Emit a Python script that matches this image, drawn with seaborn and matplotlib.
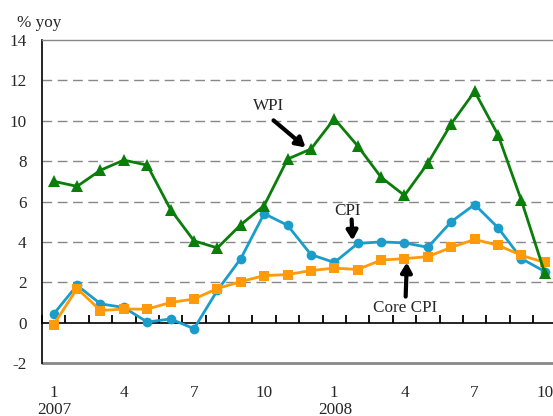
import matplotlib
matplotlib.use("Agg")
import matplotlib.pyplot as plt
import seaborn as sns
import pandas as pd
import numpy as np

months = ["1", "2", "3", "4", "5", "6", "7", "8", "9", "10", "11", "12",
          "1", "2", "3", "4", "5", "6", "7", "8", "9", "10"]
years = ["2007"] * 12 + ["2008"] * 10
wpi = [7.0, 6.75, 7.55, 8.05, 7.8, 5.6, 4.05, 3.7, 4.85, 5.8, 8.1, 8.6,
       10.1, 8.75, 7.2, 6.3, 7.9, 9.85, 11.45, 9.3, 6.05, 2.45]
cpi = [0.43, 1.85, 0.93, 0.75, 0.03, 0.18, -0.3, 1.6, 3.17, 5.4, 4.82, 3.37,
       2.98, 3.92, 4.0, 3.95, 3.73, 5.0, 5.85, 4.7, 3.17, 2.53]
core = [-0.1, 1.69, 0.6, 0.67, 0.67, 1.0, 1.17, 1.69, 2.03, 2.33, 2.38, 2.58,
        2.7, 2.63, 3.1, 3.17, 3.27, 3.73, 4.12, 3.83, 3.33, 2.98]
yticks = [-2, 0, 2, 4, 6, 8, 10, 12, 14]

sns.set_style("white")
plt.rcParams["font.family"] = ["Liberation Serif", "DejaVu Serif"]
plt.rcParams["xtick.bottom"] = True
FS = 12.3

idx = np.arange(len(months))
df = pd.DataFrame({"idx": idx, "WPI": wpi, "CPI": cpi, "Core CPI": core})

fig = plt.figure(figsize=(5.53, 4.16), dpi=100)
ax = fig.add_axes([42 / 553, 53 / 416, 514.5 / 553, 323 / 416])

green = "#0A7D0A"
blue = "#1A9DCB"
orange = "#FF9A0A"

sns.lineplot(data=df, x="idx", y="WPI", ax=ax, color=green, lw=2.0,
             marker="^", markersize=8.5, markeredgewidth=0, zorder=5)
sns.lineplot(data=df, x="idx", y="CPI", ax=ax, color=blue, lw=2.0,
             marker="o", markersize=7, markeredgewidth=0, zorder=3)
sns.lineplot(data=df, x="idx", y="Core CPI", ax=ax, color=orange, lw=2.0,
             marker="s", markersize=7, markeredgewidth=0, zorder=4)

ax.set_xlim(-0.5, len(months) - 0.5)
ax.set_ylim(yticks[0], yticks[-1])
ax.set_xlabel("")
ax.set_ylabel("")

# gridlines
for v in yticks[2:-1]:
    ax.axhline(v, color="#888888", lw=1.0, ls=(0, (7, 4)), zorder=1)

# spines: bottom spine serves as the zero line; gray frame line at the bottom
ax.spines["top"].set_color("#888888")
ax.spines["top"].set_linewidth(1.0)
ax.spines["bottom"].set_position(("data", 0))
ax.spines["bottom"].set_color("black")
ax.spines["bottom"].set_linewidth(1.2)
ax.spines["right"].set_visible(False)
ax.spines["left"].set_color("black")
ax.spines["left"].set_linewidth(1.2)
ax.axhline(yticks[0], color="#888888", lw=2.0, clip_on=False, zorder=2)

ax.set_yticks(yticks)
ax.set_yticklabels([str(v) for v in yticks], fontsize=FS)
ax.tick_params(axis="y", length=0, pad=11)

major_pos = [i for i in idx if (i % 3 == 0)]
ax.set_xticks(major_pos)
ax.set_xticklabels([months[i] for i in major_pos], fontsize=FS)
ax.set_xticks(np.arange(len(months) + 1) - 0.5, minor=True)
ax.tick_params(axis="x", which="major", length=0, pad=45)
ax.tick_params(axis="x", which="minor", direction="in", length=5.5,
               width=1.3, color="black", bottom=True)

for i in idx:
    if months[i] == "1":
        ax.annotate(years[i], xy=(i, 0), xycoords=("data", "axes fraction"),
                    xytext=(1, -47), textcoords="offset pixels",
                    ha="center", va="center", fontsize=FS)

# annotations
arrow = dict(arrowstyle="-|>,head_length=0.55,head_width=0.32", lw=3.0,
             color="black", shrinkA=0, shrinkB=0)
ax.text(9.19, 10.72, "WPI", fontsize=FS, ha="center", va="center")
ax.annotate("", xy=(10.77, 8.68), xytext=(9.4, 10.02), arrowprops=arrow)
ax.text(12.56, 5.51, "CPI", fontsize=FS, ha="center", va="center")
ax.annotate("", xy=(12.78, 4.07), xytext=(12.74, 5.11), arrowprops=arrow)
ax.text(15.04, 0.74, "Core CPI", fontsize=FS, ha="center", va="center")
ax.annotate("", xy=(15.1, 2.98), xytext=(15.05, 1.29), arrowprops=arrow)

fig.text(17 / 553, 1 - 23 / 416, "% yoy", fontsize=FS, ha="left", va="center")

fig.savefig("out.png", dpi=100)
